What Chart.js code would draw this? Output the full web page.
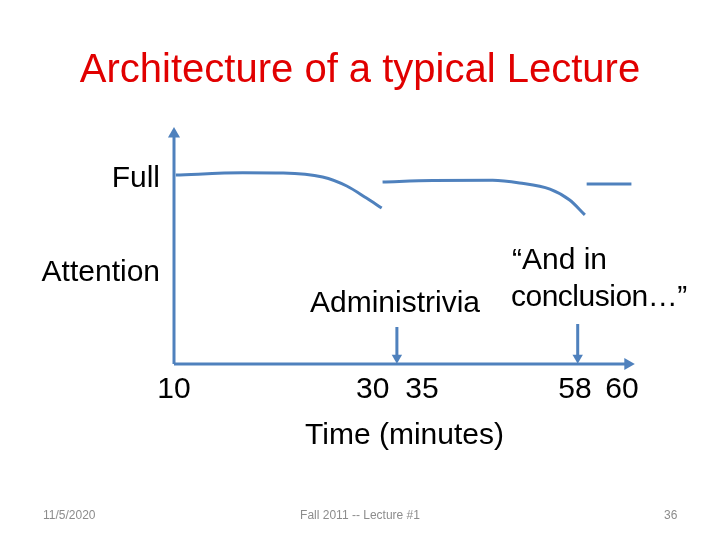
<!DOCTYPE html>
<html>
<head>
<meta charset="utf-8">
<script src="https://cdn.jsdelivr.net/npm/chart.js@4.4.1/dist/chart.umd.min.js"></script>
<style>
  body { margin: 0; background: #fff; }
  #slide { position: relative; width: 720px; height: 540px; overflow: hidden; font-family: 'Liberation Sans', Arial, sans-serif; }
  #chart { position: absolute; left: 0; top: 0; }
  .txt { position: absolute; white-space: nowrap; color: #000; font-size: 30px; line-height: 30px; }
  #title { position: absolute; left: 0; width: 720px; top: 48px; text-align: center; color: #e10000; font-size: 40px; line-height: 40px; white-space: nowrap; }
  .foot { position: absolute; top: 508px; font-size: 12px; line-height: 14px; color: #8c8c8c; white-space: nowrap; }
</style>
</head>
<body>
<div id="slide">
  <canvas id="chart" width="720" height="540"></canvas>
  <div id="title">Architecture of a typical Lecture</div>
  <div class="txt" style="left:310px; top:287px;">Administrivia</div>
  <div class="txt" style="left:512px; top:244px;">“And in</div>
  <div class="txt" style="left:511px; top:281px; letter-spacing:-0.5px;">conclusion…”</div>
  <div class="foot" style="left:43px;">11/5/2020</div>
  <div class="foot" style="left:0; width:720px; text-align:center;">Fall 2011 -- Lecture #1</div>
  <div class="foot" style="left:664px;">36</div>
</div>
<script>
// attention curve, minutes on x, attention on y (0..100)
var seg1Min = [10.2, 17.7, 22.2, 26.6, 29.3, 31.5, 33.2]
var seg1Att = [79.7, 80.7, 80.6, 78.9, 75.1, 70.0, 65.8]
var seg2Min = [33.3, 38.9, 45.6, 48.6, 52.0, 54.2, 55.9]
var seg2Att = [76.8, 77.4, 77.5, 76.4, 73.8, 69.2, 62.9]
var seg3Min = [56.1, 61.1]
var seg3Att = [75.9, 75.9]

// pointers from the notes down to the time axis
var adminMin = 34.9
var conclusionMin = 55.1
var pointerTop = [15.6, 16.9]

// tick labels
var xTickLabels = ['10', '30', '35', '58', '60']
var xTickAt = [10, 32.2, 37.7, 54.8, 60.05]
var yTickLabels = ['Attention', 'Full']
var yTickAt = [38.4, 78.1]

var blue = '#4f81bd'

function pts(xs, ys) {
    return xs.map(function (x, i) { return {x: x, y: ys[i]} })
}

function curve(xs, ys) {
    return {
        data: pts(xs, ys),
        borderColor: blue,
        borderWidth: 3,
        pointRadius: 0,
        tension: 0.4,
        cubicInterpolationMode: 'monotone',
        clip: false
    }
}

function arrow(data, rot, r) {
    return {
        data: data,
        borderColor: blue,
        backgroundColor: blue,
        borderWidth: 3,
        pointRadius: [0, r],
        pointStyle: 'triangle',
        pointRotation: [0, rot],
        pointBackgroundColor: blue,
        pointBorderWidth: 0,
        tension: 0,
        clip: false
    }
}

Chart.defaults.font.family = "'Liberation Sans', Arial, sans-serif"

new Chart(document.getElementById('chart').getContext('2d'), {
    type: 'line',
    data: {
        datasets: [
            arrow([{x: 10, y: 0}, {x: 10, y: 97}], 0, 7),        // y axis
            arrow([{x: 10, y: 0}, {x: 60.7, y: 0}], 90, 7),      // x axis
            arrow([{x: adminMin, y: pointerTop[0]}, {x: adminMin, y: 2.6}], 180, 6),
            arrow([{x: conclusionMin, y: pointerTop[1]}, {x: conclusionMin, y: 2.6}], 180, 6),
            curve(seg1Min, seg1Att),
            curve(seg2Min, seg2Att),
            curve(seg3Min, seg3Att)
        ]
    },
    options: {
        responsive: false,
        animation: false,
        layout: {padding: {top: 127, right: 85, bottom: 80, left: 0}},
        plugins: {legend: {display: false}, tooltip: {enabled: false}},
        scales: {
            x: {
                type: 'linear', min: 10, max: 61.5,
                afterBuildTicks: function (s) { s.ticks = xTickAt.map(function (v) { return {value: v} }) },
                afterFit: function (s) { s.height = 96 },
                grid: {display: false, drawTicks: false},
                border: {display: false},
                ticks: {
                    autoSkip: false, maxRotation: 0, padding: 8, color: '#000', font: {size: 30},
                    callback: function (v, i) { return xTickLabels[i] }
                },
                title: {display: true, text: 'Time (minutes)', color: '#000', font: {size: 30}, padding: {top: 0, bottom: 6}}
            },
            y: {
                type: 'linear', min: 0, max: 100,
                afterBuildTicks: function (s) { s.ticks = yTickAt.map(function (v) { return {value: v} }) },
                afterFit: function (s) { s.width = 174 },
                grid: {display: false, drawTicks: false},
                border: {display: false},
                ticks: {
                    padding: 14, color: '#000', font: {size: 30},
                    callback: function (v, i) { return yTickLabels[i] }
                }
            }
        }
    }
})
</script>
</body>
</html>
